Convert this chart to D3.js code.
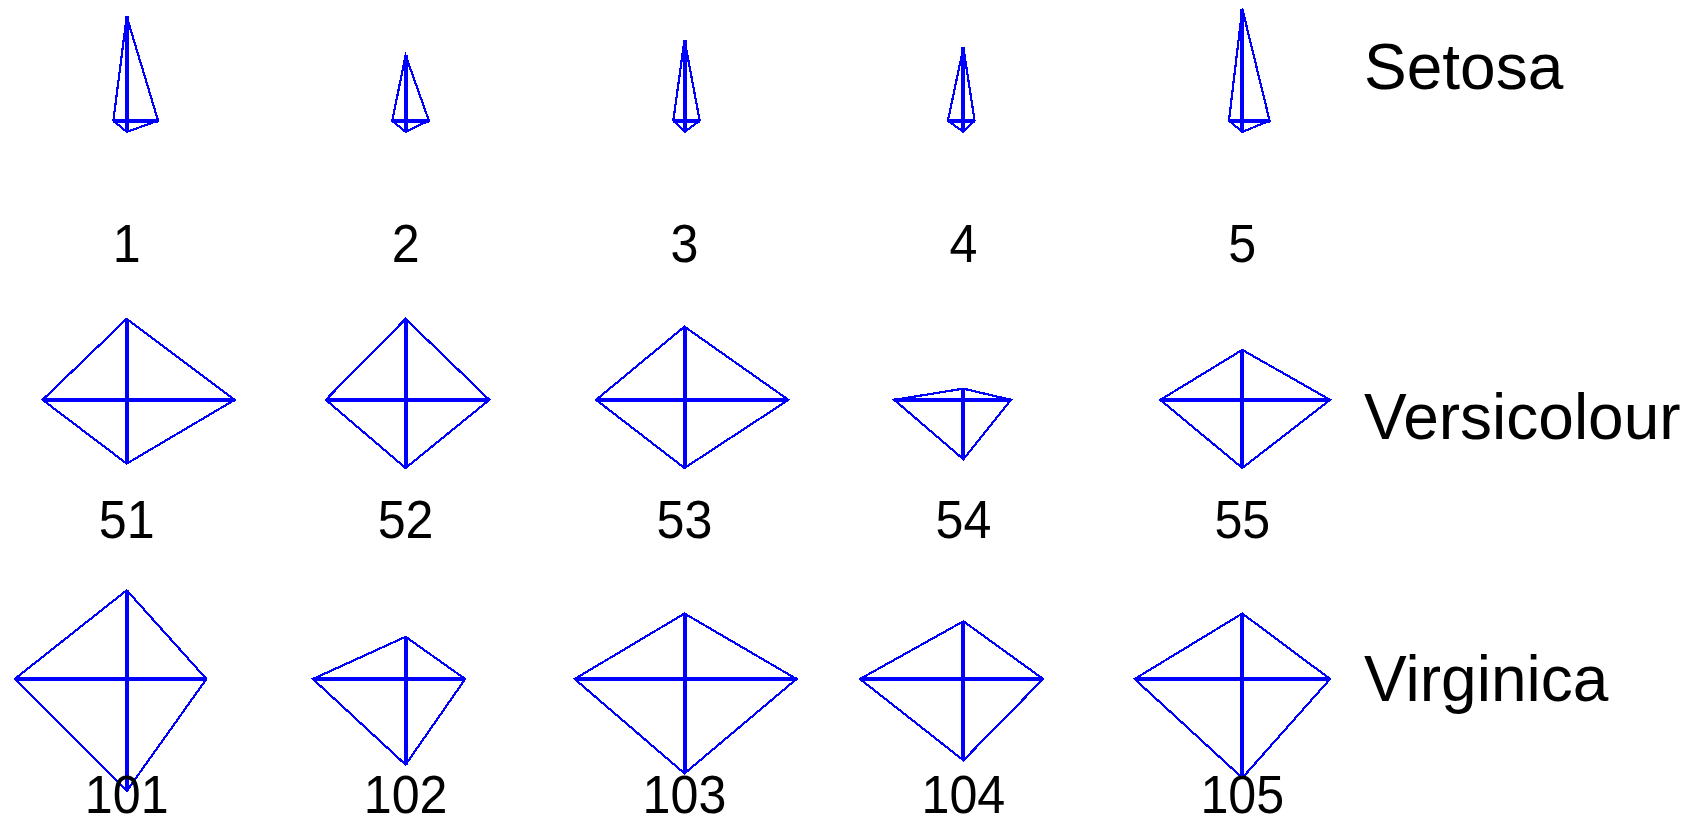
<!DOCTYPE html>
<html>
<head>
<meta charset="utf-8">
<script src="https://cdn.jsdelivr.net/npm/d3@7"></script>
<style>
  html, body { margin: 0; padding: 0; background: #ffffff; }
  svg { display: block; }
</style>
</head>
<body>
<svg id="chart" width="1704" height="825"></svg>
<script>
// ---- Data (Fisher iris, observations 1-5, 51-55, 101-105) ----
const variables = ["Sepal length", "Sepal width", "Petal length", "Petal width"];
const species = ["Setosa", "Versicolour", "Virginica"];
const obsLabels = ["1", "2", "3", "4", "5", "51", "52", "53", "54", "55", "101", "102", "103", "104", "105"];
const sepalLength = [5.1, 4.9, 4.7, 4.6, 5.0, 7.0, 6.4, 6.9, 5.5, 6.5, 6.3, 5.8, 7.1, 6.3, 6.5];
const sepalWidth  = [3.5, 3.0, 3.2, 3.1, 3.6, 3.2, 3.2, 3.1, 2.3, 2.8, 3.3, 2.7, 3.0, 2.9, 3.0];
const petalLength = [1.4, 1.4, 1.3, 1.5, 1.4, 4.7, 4.5, 4.9, 4.0, 4.6, 6.0, 5.1, 5.9, 5.6, 5.8];
const petalWidth  = [0.2, 0.2, 0.2, 0.2, 0.2, 1.4, 1.5, 1.5, 1.3, 1.5, 2.5, 1.9, 2.1, 1.8, 2.2];

// ---- Layout ----
const svg = d3.select("#chart");
const columns = 5;
const colorLine = "#0000ff";
const R = 112;            // full spoke length (px)
const labelDy = [-32, 39, 22];
const numberDy = [141, 138, 134];

const series = [sepalLength, sepalWidth, petalLength, petalWidth];
// column-wise standardisation, spokes from 0.1R to R
const radial = series.map(v => d3.scaleLinear().domain(d3.extent(v)).range([0.1 * R, R]));
// spoke angles: right, up, left, down (d3 radial angle: clockwise from 12 o'clock)
const angle = d3.scaleLinear().domain([0, 1]).range([Math.PI / 2, 0]);

const x = d3.scaleLinear().domain([0, columns - 1]).range([126.7, 1242.3]);
const y = d3.scaleLinear().domain([0, species.length - 1]).range([120.7, 679]);

const radialLine = d3.lineRadial()
  .angle(d => angle(d.k))
  .radius(d => d.r)
  .curve(d3.curveLinearClosed);

const glyphs = obsLabels.map((lab, i) => ({
  label: lab,
  col: i % columns,
  row: Math.floor(i / columns),
  spokes: series.map((s, k) => ({ k, r: radial[k](s[i]) }))
}));

const g = svg.selectAll("g.glyph")
  .data(glyphs)
  .join("g")
  .attr("class", "glyph")
  .attr("transform", d => `translate(${x(d.col)},${y(d.row)})`);

g.append("path")
  .attr("d", d => radialLine(d.spokes))
  .attr("fill", "none")
  .attr("stroke", colorLine)
  .attr("stroke-width", 2.2)
  .attr("shape-rendering", "crispEdges");

g.selectAll("line.spoke")
  .data(d => d.spokes)
  .join("line")
  .attr("class", "spoke")
  .attr("x1", 0).attr("y1", 0)
  .attr("x2", d => d.r * Math.sin(angle(d.k)))
  .attr("y2", d => -d.r * Math.cos(angle(d.k)))
  .attr("stroke", colorLine)
  .attr("stroke-width", 4)
  .attr("shape-rendering", "crispEdges");

g.append("text")
  .attr("transform", d => `translate(0,${numberDy[d.row]}) scale(0.93,1)`)
  .attr("text-anchor", "middle")
  .attr("font-family", "'Liberation Sans', Arial, sans-serif")
  .attr("font-size", 54)
  .attr("fill", "#000")
  .text(d => d.label);

svg.selectAll("text.species")
  .data(species)
  .join("text")
  .attr("class", "species")
  .attr("x", 1364)
  .attr("y", (d, i) => y(i) + labelDy[i])
  .attr("font-family", "'Liberation Sans', Arial, sans-serif")
  .attr("font-size", 64)
  .attr("fill", "#000")
  .text(d => d);
</script>
</body>
</html>
